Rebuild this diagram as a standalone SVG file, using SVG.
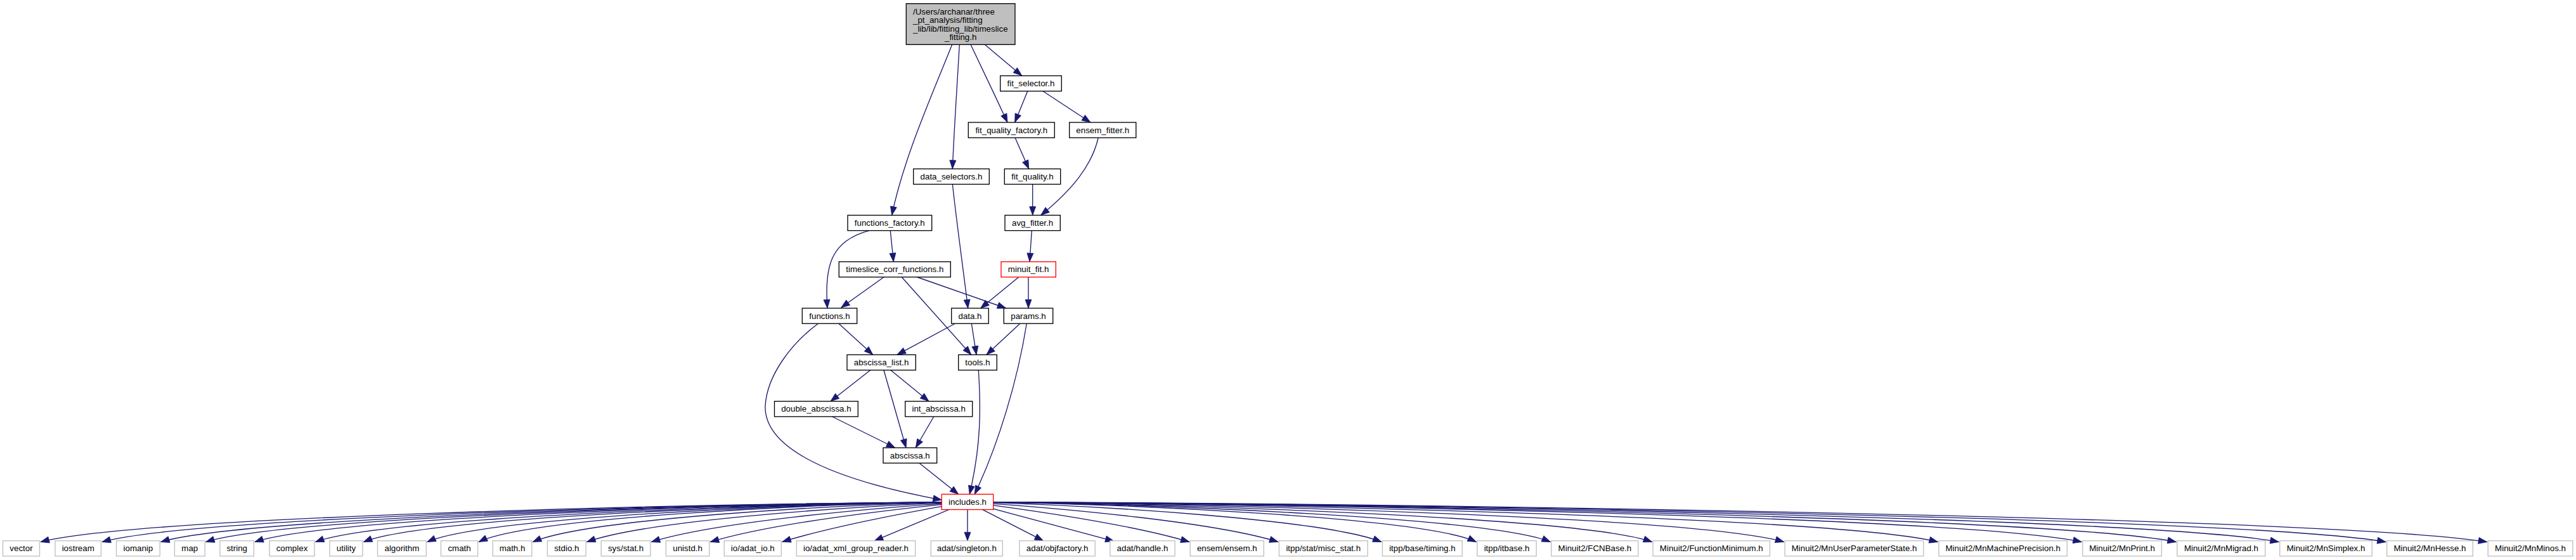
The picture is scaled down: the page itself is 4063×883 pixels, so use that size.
<svg xmlns="http://www.w3.org/2000/svg" width="4063" height="883" viewBox="0 0 4063 883">
<style>
text{font-family:"Liberation Sans",Arial,Helvetica,sans-serif;font-size:13.33px;fill:#000;text-anchor:middle}
.n rect{fill:#fff;stroke:#000;stroke-width:1.33}
.r rect{fill:#fff;stroke:#ff0000;stroke-width:1.33}
.g rect{fill:#fff;stroke:#bfbfbf;stroke-width:1.33}
.top rect{fill:#bfbfbf;stroke:#000;stroke-width:1.33}
#edges path{fill:none;stroke:#191970;stroke-width:1.33;marker-end:url(#ah)}
</style>
<defs>
<marker id="ah" markerUnits="userSpaceOnUse" markerWidth="16" markerHeight="12" refX="13.5" refY="5" orient="auto" overflow="visible">
<path d="M0,0 L13.5,5 L0,10 Z" fill="#191970" stroke="#191970" stroke-width="0.8"/>
</marker>
</defs>
<rect width="4063" height="883" fill="#fff"/>
<g id="edges">
<path d="M1501.7,70.3 C1470,150 1425,250 1406.7,339.3"/>
<path d="M1513.3,70.3 C1510,130 1505,200 1502.3,266.3"/>
<path d="M1531,70.3 C1550,110 1570,152 1589,193"/>
<path d="M1553.3,70.3 C1573,87 1592,103 1611.7,119.3"/>
<path d="M1620.7,143.7 L1600.7,193"/>
<path d="M1645,143.7 L1720,193"/>
<path d="M1601,217 L1622.7,266.3"/>
<path d="M1732.3,217 C1722,262 1690,300 1641.7,339.3"/>
<path d="M1628.7,290.3 L1628.7,339.3"/>
<path d="M1627.3,363.7 L1624,412.7"/>
<path d="M1404.3,363.7 L1409.3,412.7"/>
<path d="M1370.7,363.7 C1310,380 1300,420 1305,486"/>
<path d="M1394,437 L1326.7,485"/>
<path d="M1422.3,437 L1531.7,559.3"/>
<path d="M1446.7,437 L1586.7,486"/>
<path d="M1502.3,290.3 C1510,360 1520,430 1526.7,486"/>
<path d="M1606.7,437 L1546.7,486"/>
<path d="M1622,437 L1622,486"/>
<path d="M1322.7,510 L1376.7,559.3"/>
<path d="M1290.7,510 C1250,540 1210,590 1207,640 C1205,700 1290,752 1485.3,788.3"/>
<path d="M1506.7,510 L1415,559.3"/>
<path d="M1532.3,510 L1540,559.3"/>
<path d="M1609,510 L1556,559.3"/>
<path d="M1619.3,510 C1605,600 1575,700 1537.3,779.3"/>
<path d="M1543.3,583.7 C1547,640 1548,700 1529.3,779.3"/>
<path d="M1372.7,583.7 L1310,632.7"/>
<path d="M1394,583.7 L1429,706"/>
<path d="M1405,583.7 L1465,632.7"/>
<path d="M1312.7,657 L1411.7,706"/>
<path d="M1472.7,657 L1444.3,706"/>
<path d="M1450,730.3 L1511.7,779.3"/>
<path d="M1526,791.3 C1043.5,794.5 210.2,816.6 64,854.5"/>
<path d="M1526,791.3 C1075.5,794.5 297.5,816.6 161,854.5"/>
<path d="M1526,791.3 C1106.1,794.5 380.9,816.6 253.7,854.5"/>
<path d="M1526,791.3 C1129.6,794.5 444.8,816.6 324.7,854.5"/>
<path d="M1526,791.3 C1155.1,794.5 514.3,816.6 401.9,854.5"/>
<path d="M1526,791.3 C1186.6,794.5 600.3,816.6 497.5,854.5"/>
<path d="M1526,791.3 C1211.6,794.5 668.7,816.6 573.4,854.5"/>
<path d="M1526,791.3 C1244.8,794.5 759,816.6 673.8,854.5"/>
<path d="M1526,791.3 C1271.6,794.5 832.2,816.6 755.1,854.5"/>
<path d="M1526,791.3 C1299.7,796.4 926,818.4 840.3,854.5"/>
<path d="M1526,791.3 C1327.9,798.9 1020.2,820.8 925.6,854.5"/>
<path d="M1526,791.3 C1361.5,801.9 1125.6,823.7 1027.4,854.5"/>
<path d="M1526,791.3 C1392.1,804.6 1214.4,826.4 1120.3,854.5"/>
<path d="M1526,791.3 C1429.6,807.9 1314.3,829.5 1233.8,854.3"/>
<path d="M1526,791.3 L1379.3,852.7"/>
<path d="M1526,791.3 L1526,852.7"/>
<path d="M1526,791.3 L1645.5,852.7"/>
<path d="M1526,791.3 L1757,853.3"/>
<path d="M1526,791.3 C1641.5,806.3 1787.5,828 1876,854.5"/>
<path d="M1526,791.3 C1687.7,802.1 1918,824 2016,854.5"/>
<path d="M1526,791.3 C1741.5,797.3 2089.5,819.4 2179,854.5"/>
<path d="M1526,791.3 C1790.8,794.5 2248.3,816.6 2328.5,854.5"/>
<path d="M1526,791.3 C1829.4,794.5 2353.6,816.6 2445.5,854.5"/>
<path d="M1526,791.3 C1882.3,794.5 2497.7,816.6 2605.7,854.5"/>
<path d="M1526,791.3 C1951,794.5 2685,816.6 2813.8,854.5"/>
<path d="M1526,791.3 C2031,794.5 2903.5,816.6 3056.5,854.5"/>
<path d="M1526,791.3 C2105.9,794.5 3107.6,816.6 3283.3,854.5"/>
<path d="M1526,791.3 C2155.1,794.5 3241.8,816.6 3432.4,854.5"/>
<path d="M1526,791.3 C2208.5,794.5 3387.5,816.6 3594.3,854.5"/>
<path d="M1526,791.3 C2264.3,794.5 3539.5,816.6 3763.2,854.5"/>
<path d="M1526,791.3 C2316.9,794.5 3683,816.6 3922.7,854.5"/>
</g>
<g id="node-top" class="top"><rect x="1429.3" y="5.7" width="171.7" height="64.6"/>
<text x="1440" y="22.7" style="text-anchor:start">/Users/archanar/three</text>
<text x="1440" y="36.2" style="text-anchor:start">_pt_analysis/fitting</text>
<text x="1440" y="49.6" style="text-anchor:start">_lib/lib/fitting_lib/timeslice</text>
<text x="1515.2" y="63">_fitting.h</text></g>
<g id="node-fit_selector" class="n"><rect x="1577.7" y="119.5" width="96.6" height="24.2"/><text x="1626" y="136.1">fit_selector.h</text></g>
<g id="node-fit_quality_factory" class="n"><rect x="1527.3" y="193" width="136" height="24.2"/><text x="1595.3" y="209.6">fit_quality_factory.h</text></g>
<g id="node-ensem_fitter" class="n"><rect x="1686.7" y="193" width="105.1" height="24.2"/><text x="1739.2" y="209.6">ensem_fitter.h</text></g>
<g id="node-data_selectors" class="n"><rect x="1440.7" y="266.3" width="119.6" height="24.2"/><text x="1500.5" y="282.9">data_selectors.h</text></g>
<g id="node-fit_quality" class="n"><rect x="1584.3" y="266.3" width="88.4" height="24.2"/><text x="1628.5" y="282.9">fit_quality.h</text></g>
<g id="node-functions_factory" class="n"><rect x="1337" y="339.4" width="132.7" height="24.2"/><text x="1403.3" y="356">functions_factory.h</text></g>
<g id="node-avg_fitter" class="n"><rect x="1585" y="339.4" width="87.3" height="24.2"/><text x="1628.6" y="356">avg_fitter.h</text></g>
<g id="node-timeslice_corr_functions" class="n"><rect x="1323.3" y="412.7" width="176" height="24.2"/><text x="1411.3" y="429.3">timeslice_corr_functions.h</text></g>
<g id="node-minuit_fit" class="r"><rect x="1579" y="412.7" width="86.3" height="24.2"/><text x="1622.1" y="429.3">minuit_fit.h</text></g>
<g id="node-functions" class="n"><rect x="1265.3" y="486" width="86.4" height="24.2"/><text x="1308.5" y="502.6">functions.h</text></g>
<g id="node-data" class="n"><rect x="1500.7" y="486" width="58.6" height="24.2"/><text x="1530" y="502.6">data.h</text></g>
<g id="node-params" class="n"><rect x="1583.3" y="486" width="77.4" height="24.2"/><text x="1622" y="502.6">params.h</text></g>
<g id="node-abscissa_list" class="n"><rect x="1336" y="559.4" width="108.3" height="24.2"/><text x="1390.1" y="576">abscissa_list.h</text></g>
<g id="node-tools" class="n"><rect x="1511.7" y="559.4" width="60.6" height="24.2"/><text x="1542" y="576">tools.h</text></g>
<g id="node-double_abscissa" class="n"><rect x="1221.5" y="632.7" width="131.8" height="24.2"/><text x="1287.4" y="649.3">double_abscissa.h</text></g>
<g id="node-int_abscissa" class="n"><rect x="1427.7" y="632.7" width="106" height="24.2"/><text x="1480.7" y="649.3">int_abscissa.h</text></g>
<g id="node-abscissa" class="n"><rect x="1393" y="706" width="84.7" height="24.2"/><text x="1435.3" y="722.6">abscissa.h</text></g>
<g id="node-includes" class="r"><rect x="1485.3" y="779.3" width="81.4" height="24.2"/><text x="1526" y="795.9">includes.h</text></g>
<g id="node-vector" class="g"><rect x="4.5" y="852.7" width="58" height="24.2"/><text x="33.5" y="869.3">vector</text></g>
<g id="node-iostream" class="g"><rect x="87" y="852.7" width="72.4" height="24.2"/><text x="123.2" y="869.3">iostream</text></g>
<g id="node-iomanip" class="g"><rect x="183.5" y="852.7" width="68.7" height="24.2"/><text x="217.9" y="869.3">iomanip</text></g>
<g id="node-map" class="g"><rect x="275.4" y="852.7" width="47.8" height="24.2"/><text x="299.3" y="869.3">map</text></g>
<g id="node-string" class="g"><rect x="346.9" y="852.7" width="53.5" height="24.2"/><text x="373.7" y="869.3">string</text></g>
<g id="node-complex" class="g"><rect x="425" y="852.7" width="71" height="24.2"/><text x="460.5" y="869.3">complex</text></g>
<g id="node-utility" class="g"><rect x="520" y="852.7" width="51.9" height="24.2"/><text x="546" y="869.3">utility</text></g>
<g id="node-algorithm" class="g"><rect x="595.5" y="852.7" width="76.8" height="24.2"/><text x="633.9" y="869.3">algorithm</text></g>
<g id="node-cmath" class="g"><rect x="695.5" y="852.7" width="58.1" height="24.2"/><text x="724.6" y="869.3">cmath</text></g>
<g id="node-math" class="g"><rect x="777.2" y="852.7" width="61.6" height="24.2"/><text x="808" y="869.3">math.h</text></g>
<g id="node-stdio" class="g"><rect x="863.4" y="852.7" width="60.7" height="24.2"/><text x="893.8" y="869.3">stdio.h</text></g>
<g id="node-sysstat" class="g"><rect x="948.2" y="852.7" width="77.7" height="24.2"/><text x="987.1" y="869.3">sys/stat.h</text></g>
<g id="node-unistd" class="g"><rect x="1050.4" y="852.7" width="68.4" height="24.2"/><text x="1084.6" y="869.3">unistd.h</text></g>
<g id="node-adat_io" class="g"><rect x="1142.3" y="852.7" width="90" height="24.2"/><text x="1187.3" y="869.3">io/adat_io.h</text></g>
<g id="node-adat_xml_group_reader" class="g"><rect x="1256.3" y="852.7" width="187.4" height="24.2"/><text x="1350" y="869.3">io/adat_xml_group_reader.h</text></g>
<g id="node-singleton" class="g"><rect x="1468.3" y="852.7" width="113" height="24.2"/><text x="1524.8" y="869.3">adat/singleton.h</text></g>
<g id="node-objfactory" class="g"><rect x="1608" y="852.7" width="119.2" height="24.2"/><text x="1667.6" y="869.3">adat/objfactory.h</text></g>
<g id="node-handle" class="g"><rect x="1750.9" y="852.7" width="102.2" height="24.2"/><text x="1802" y="869.3">adat/handle.h</text></g>
<g id="node-ensem" class="g"><rect x="1877.2" y="852.7" width="116.1" height="24.2"/><text x="1935.3" y="869.3">ensem/ensem.h</text></g>
<g id="node-misc_stat" class="g"><rect x="2017.4" y="852.7" width="139.7" height="24.2"/><text x="2087.3" y="869.3">itpp/stat/misc_stat.h</text></g>
<g id="node-timing" class="g"><rect x="2180.4" y="852.7" width="125.9" height="24.2"/><text x="2243.4" y="869.3">itpp/base/timing.h</text></g>
<g id="node-itbase" class="g"><rect x="2329.9" y="852.7" width="93.3" height="24.2"/><text x="2376.6" y="869.3">itpp/itbase.h</text></g>
<g id="node-FCNBase" class="g"><rect x="2446.9" y="852.7" width="137" height="24.2"/><text x="2515.4" y="869.3">Minuit2/FCNBase.h</text></g>
<g id="node-FunctionMinimum" class="g"><rect x="2607.1" y="852.7" width="184.4" height="24.2"/><text x="2699.3" y="869.3">Minuit2/FunctionMinimum.h</text></g>
<g id="node-MnUserParameterState" class="g"><rect x="2815.2" y="852.7" width="218.7" height="24.2"/><text x="2924.6" y="869.3">Minuit2/MnUserParameterState.h</text></g>
<g id="node-MnMachinePrecision" class="g"><rect x="3058" y="852.7" width="202.3" height="24.2"/><text x="3159.2" y="869.3">Minuit2/MnMachinePrecision.h</text></g>
<g id="node-MnPrint" class="g"><rect x="3284.8" y="852.7" width="124.6" height="24.2"/><text x="3347.1" y="869.3">Minuit2/MnPrint.h</text></g>
<g id="node-MnMigrad" class="g"><rect x="3433.9" y="852.7" width="138.9" height="24.2"/><text x="3503.4" y="869.3">Minuit2/MnMigrad.h</text></g>
<g id="node-MnSimplex" class="g"><rect x="3595.8" y="852.7" width="145.4" height="24.2"/><text x="3668.5" y="869.3">Minuit2/MnSimplex.h</text></g>
<g id="node-MnHesse" class="g"><rect x="3764.7" y="852.7" width="135.6" height="24.2"/><text x="3832.5" y="869.3">Minuit2/MnHesse.h</text></g>
<g id="node-MnMinos" class="g"><rect x="3924.2" y="852.7" width="133.7" height="24.2"/><text x="3991" y="869.3">Minuit2/MnMinos.h</text></g>
</svg>
